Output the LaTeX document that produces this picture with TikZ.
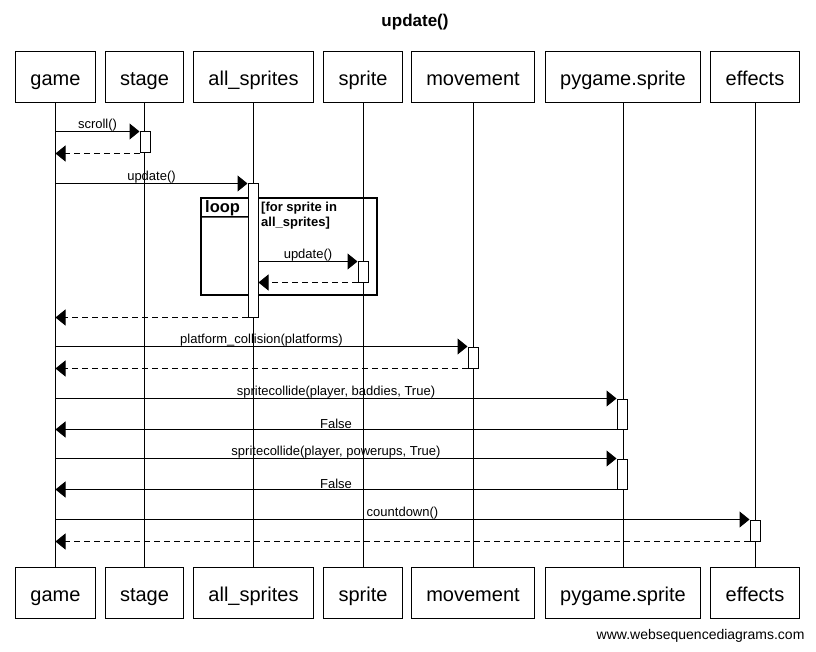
\documentclass[tikz,border=0pt]{standalone}
\usepackage{fontspec}
\setmainfont{Liberation Sans}
\usetikzlibrary{arrows.meta}

\tikzset{
  actor/.style={draw, line width=1pt, fill=white, font=\fontsize{20}{24}\selectfont,
    inner xsep=15pt, inner ysep=0pt, text height=18.5pt, text depth=2pt, minimum height=51pt},
  act/.style={draw, line width=1pt, fill=white, minimum width=10pt, inner sep=0pt},
  msg/.style={line width=1pt, -{Triangle[length=10pt,width=16pt]}},
  ret/.style={msg, dash pattern=on 6pt off 4pt},
  lbl/.style={font=\fontsize{13}{15}\selectfont, above, inner sep=0pt},
}

\begin{document}
\begin{tikzpicture}[x=1pt,y=-1pt]
            \useasboundingbox (0,0) rectangle (816,652);

            \node[font=\bfseries\fontsize{17}{20}\selectfont] (title) at (415,22) {update()};

            % participants, top and bottom
            \node[actor] (game)   at (55.5,77) {game};
            \node[actor] (stage)  at (144.5,77) {stage};
            \node[actor] (allspr) at (253.5,77) {all\_sprites};
            \node[actor] (sprite) at (363,77) {sprite};
            \node[actor] (move)   at (473,77) {movement};
            \node[actor] (pyspr)  at (623,77) {pygame.sprite};
            \node[actor] (fx)     at (755,77) {effects};

            \node[actor] (gameB)   at (55.5,593) {game};
            \node[actor] (stageB)  at (144.5,593) {stage};
            \node[actor] (allsprB) at (253.5,593) {all\_sprites};
            \node[actor] (spriteB) at (363,593) {sprite};
            \node[actor] (moveB)   at (473,593) {movement};
            \node[actor] (pysprB)  at (623,593) {pygame.sprite};
            \node[actor] (fxB)     at (755,593) {effects};

            \draw[line width=1pt] (game) -- (gameB);
            \draw[line width=1pt] (stage) -- (stageB);
            \draw[line width=1pt] (allspr) -- (allsprB);
            \draw[line width=1pt] (sprite) -- (spriteB);
            \draw[line width=1pt] (move) -- (moveB);
            \draw[line width=1pt] (pyspr) -- (pysprB);
            \draw[line width=1pt] (fx) -- (fxB);

            % loop frame
            \draw[line width=2pt] (201,198) rectangle (377,295);
            \draw[line width=1.5pt] (201,217) -- (252,217) -- (258,211) -- (258,198);
            \node[font=\bfseries\fontsize{16.5}{20}\selectfont, anchor=west, inner sep=0pt] (looptag) at (205,208) {loop};
            \node[font=\bfseries\fontsize{13}{15}\selectfont, anchor=north west, align=left, inner sep=0pt]
                (guard) at (261,202) {[for sprite in\\all\_sprites]};

            % activations
            \node[act, minimum height=21pt]  (stageact) at (145,142.5) {};
            \node[act, minimum height=133pt] (allact)   at (253,250.5) {};
            \node[act, minimum height=20pt]  (spract)   at (363,272) {};
            \node[act, minimum height=21pt]  (moveact)  at (473,357.5) {};
            \node[act, minimum height=30pt]  (pyact1)   at (622,414) {};
            \node[act, minimum height=30pt]  (pyact2)   at (622,474) {};
            \node[act, minimum height=21pt]  (fxact)    at (755,530.5) {};

            % messages
            \draw[msg] (game |- stageact.north) -- node[lbl] {scroll()} (stageact.north west);
            \draw[ret] (stageact.south west) -- (game |- stageact.south);

            \draw[msg] (game |- allact.north) -- node[lbl] {update()} (allact.north west);
            \draw[msg] (allact.east |- spract.north) -- node[lbl] {update()} (spract.north west);
            \draw[ret] (spract.south west) -- (allact.east |- spract.south);
            \draw[ret] (allact.south west) -- (game |- allact.south);

            \draw[msg] (game |- moveact.north) -- node[lbl] {platform\_collision(platforms)} (moveact.north west);
            \draw[ret] (moveact.south west) -- (game |- moveact.south);

            \draw[msg] (game |- pyact1.north) -- node[lbl] {spritecollide(player, baddies, True)} (pyact1.north west);
            \draw[msg] (pyact1.south west) -- node[lbl] {False} (game |- pyact1.south);
            \draw[msg] (game |- pyact2.north) -- node[lbl] {spritecollide(player, powerups, True)} (pyact2.north west);
            \draw[msg] (pyact2.south west) -- node[lbl] {False} (game |- pyact2.south);

            \draw[msg] (game |- fxact.north) -- node[lbl] {countdown()} (fxact.north west);
            \draw[ret] (fxact.south west) -- (game |- fxact.south);

            \node[anchor=east, font=\fontsize{14}{16}\selectfont] (credit) at (808,636) {www.websequencediagrams.com};
        \end{tikzpicture}
\end{document}
